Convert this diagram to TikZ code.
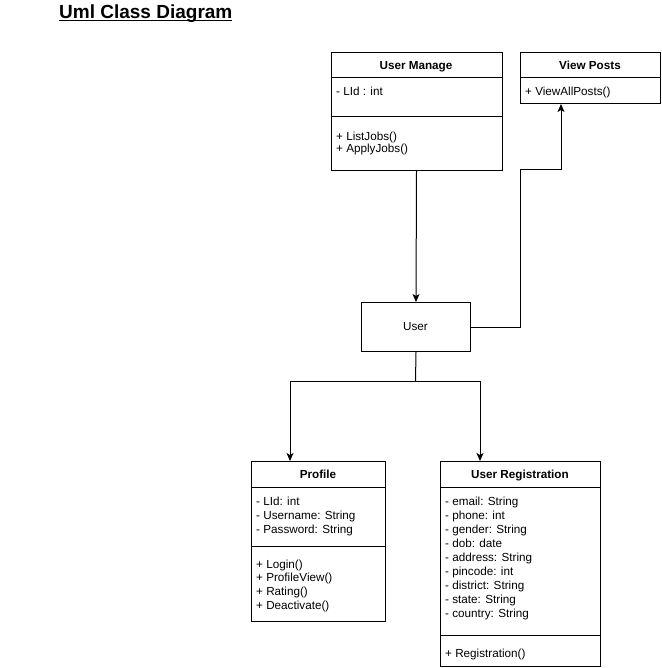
\documentclass[tikz,border=0pt]{standalone}
\usepackage{fontspec}
\setmainfont{Liberation Sans}
\usetikzlibrary{arrows.meta}
\newcommand{\myul}[1]{\leavevmode\setbox0\hbox{#1}\rlap{\rule[-2.2pt]{\wd0}{1.5pt}}\box0}
\tikzset{
  cls/.style={draw, line width=1pt, anchor=north west, inner sep=0pt, fill=white},
  hdr/.style={font=\fontsize{11.7}{14}\bfseries\selectfont, inner sep=0pt, anchor=base},
  txt/.style={font=\fontsize{11.7}{14}\selectfont, inner sep=0pt, anchor=base west},
  conn/.style={line width=1pt},
  arr/.style={line width=1pt, -{Stealth[length=8pt,width=7pt,inset=2pt]}},
}
\begin{document}
\begin{tikzpicture}[x=1pt, y=-1pt]
\useasboundingbox (0,0) rectangle (661,668);
% title
\node[anchor=base west, inner sep=0pt, font=\fontsize{19}{22}\bfseries\selectfont] (title) at (59,19) {\myul{Uml Class Diagram}};
% boxes
\node[cls, minimum width=171pt, minimum height=118pt] (um) at (330.5,52) {};
\node[cls, minimum width=140pt, minimum height=51pt] (vp) at (520,52) {};
\node[cls, minimum width=109pt, minimum height=49pt] (user) at (361,302) {};
\node[cls, minimum width=134pt, minimum height=160pt] (prof) at (251,461) {};
\node[cls, minimum width=160pt, minimum height=205pt] (reg) at (440,461) {};
% compartments
\draw[conn] ([yshift=-26pt]um.north west) -- ([yshift=-26pt]um.north east);
\draw[conn] ([yshift=-65pt]um.north west) -- ([yshift=-65pt]um.north east);
\draw[conn] ([yshift=-26pt]vp.north west) -- ([yshift=-26pt]vp.north east);
\draw[conn] ([yshift=-26pt]prof.north west) -- ([yshift=-26pt]prof.north east);
\draw[conn] ([yshift=-85pt]prof.north west) -- ([yshift=-85pt]prof.north east);
\draw[conn] ([yshift=-26pt]reg.north west) -- ([yshift=-26pt]reg.north east);
\draw[conn] ([yshift=-174pt]reg.north west) -- ([yshift=-174pt]reg.north east);
% headers
\node[hdr] (umh) at (416,69.2) {User Manage};
\node[hdr] (vph) at (590,69.2) {View Posts};
\node[hdr] (profh) at (318,478.7) {Profile};
\node[hdr] (regh) at (520,478.7) {User Registration};
\node[font=\fontsize{11.7}{14}\selectfont, inner sep=0pt, anchor=base] (usert) at (415.5,330.7) {User};
% texts
\node[txt] (um1) at (336,96) {- LId : int};
\node[txt] (um2) at (336,141) {+ ListJobs()};
\node[txt] (um3) at (336,153) {+ ApplyJobs()};
\node[txt] (vp1) at (525,96) {+ ViewAllPosts()};
\foreach \t [count=\i] in {- LId: int, - Username: String, - Password: String}
  \node[txt] (pa\i) at (256,{505.2+14*(\i-1)}) {\t};
\foreach \t [count=\i] in {+ Login(), + ProfileView(), + Rating(), + Deactivate()}
  \node[txt] (pm\i) at (256,{568+13.8*(\i-1)}) {\t};
\foreach \t [count=\i] in {- email: String, - phone: int, - gender: String, - dob: date, - address: String, - pincode: int, - district: String, - state: String, - country: String}
  \node[txt] (ra\i) at (445,{505.2+14*(\i-1)}) {\t};
\node[txt] (rm1) at (445,657) {+ Registration()};
% connectors
\draw[arr] (um.south) -- (user.north);
\coordinate (bend) at (520,170);
\draw[arr] (user.east) -| (bend) -| ([xshift=41pt]vp.south west);
\coordinate (split) at (415.5,381.5);
\draw[conn] (user.south) -- (split);
\draw[arr] (split) -| ([xshift=39pt]prof.north west);
\draw[arr] (split) -| ([xshift=40pt]reg.north west);
\end{tikzpicture}
\end{document}
